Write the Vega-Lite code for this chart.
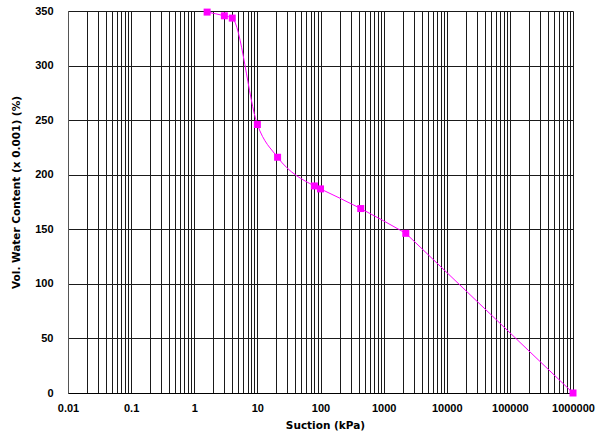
{
  "$schema": "https://vega.github.io/schema/vega-lite/v6.json",
  "autosize": "none",
  "width": 505,
  "height": 382,
  "padding": {"left": 68, "top": 11, "right": 27, "bottom": 41},
  "background": "white",
  "view": {"stroke": null},
  "data": {"values": [
    {"s": 1.6, "w": 349},
    {"s": 3, "w": 345.6},
    {"s": 4, "w": 343.5},
    {"s": 10, "w": 246},
    {"s": 20.9, "w": 216},
    {"s": 80, "w": 189.7},
    {"s": 100, "w": 187},
    {"s": 434, "w": 169},
    {"s": 2245, "w": 146.3},
    {"s": 1000000, "w": 0}
  ]},
  "encoding": {
    "x": {
      "field": "s", "type": "quantitative",
      "scale": {"type": "log", "domain": [0.01, 1000000], "nice": false},
      "axis": {
        "title": "Suction (kPa)",
        "values": [0.01,0.02,0.03,0.04,0.05,0.06,0.07,0.08,0.09,0.1,0.2,0.3,0.4,0.5,0.6,0.7,0.8,0.9,1,2,3,4,5,6,7,8,9,10,20,30,40,50,60,70,80,90,100,200,300,400,500,600,700,800,900,1000,2000,3000,4000,5000,6000,7000,8000,9000,10000,20000,30000,40000,50000,60000,70000,80000,90000,100000,200000,300000,400000,500000,600000,700000,800000,900000,1000000],
        "labelExpr": "indexof([0.01,0.1,1,10,100,1000,10000,100000,1000000], datum.value) >= 0 ? toString(datum.value) : ''",
        "labelOverlap": false,
        "labelFlush": false,
        "labelPadding": 9,
        "ticks": false,
        "grid": true,
        "gridColor": "#1a1a1a",
        "gridWidth": 1,
        "gridOpacity": 1,
        "domainColor": "#000000",
        "labelFont": "Liberation Sans",
        "labelFontWeight": "bold",
        "labelFontSize": 11,
        "labelColor": "#000000",
        "titleFont": "DejaVu Sans",
        "titleFontWeight": "bold",
        "titleFontSize": 10.5,
        "titleColor": "#000000",
        "titleX": 257,
        "titleY": 27,
        "titleBaseline": "top"
      }
    },
    "y": {
      "field": "w", "type": "quantitative",
      "scale": {"domain": [0, 350], "nice": false},
      "axis": {
        "title": "Vol. Water Content (x 0.001) (%)",
        "values": [0, 50, 100, 150, 200, 250, 300, 350],
        "ticks": false,
        "grid": true,
        "gridColor": "#1a1a1a",
        "gridWidth": 1,
        "gridOpacity": 1,
        "domainColor": "#555555",
        "labelPadding": 15,
        "labelFont": "Liberation Sans",
        "labelFontWeight": "bold",
        "labelFontSize": 11,
        "labelColor": "#000000",
        "titleFont": "DejaVu Sans",
        "titleFontWeight": "bold",
        "titleFontSize": 10.5,
        "titleColor": "#000000",
        "titleX": -47,
        "titleY": 181
      }
    }
  },
  "layer": [
    {"transform": [{"filter": "datum.s <= 2245"}], "mark": {"type": "line", "color": "#FF00FF", "strokeWidth": 1, "interpolate": "monotone"}},
    {"transform": [{"filter": "datum.s >= 2245"}], "mark": {"type": "line", "color": "#FF00FF", "strokeWidth": 1, "interpolate": "linear"}},
    {"mark": {"type": "point", "shape": "square", "filled": true, "size": 49, "color": "#FF00FF", "opacity": 1}}
  ]
}
